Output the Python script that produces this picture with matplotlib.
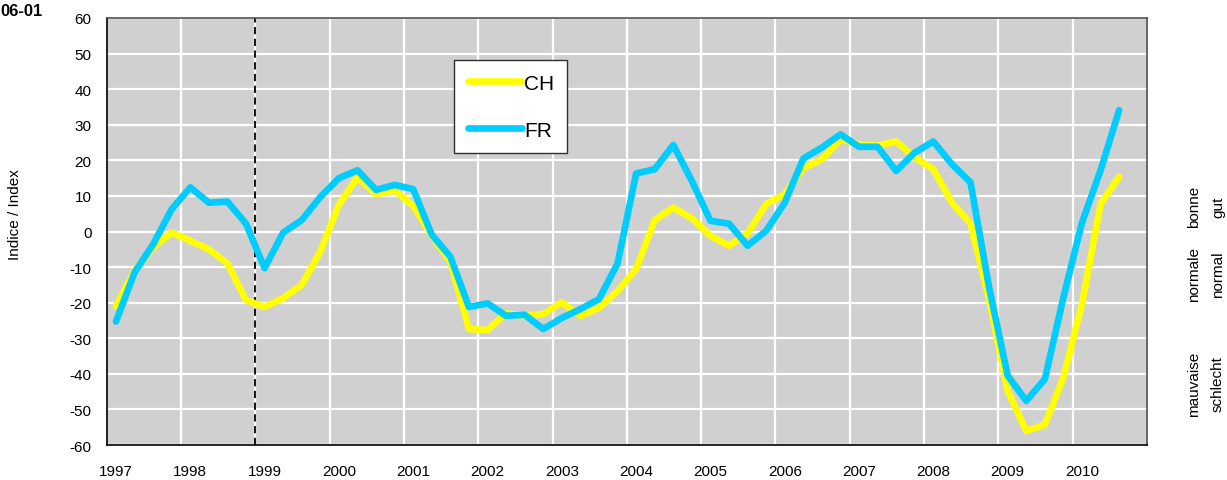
import matplotlib.pyplot as plt
import numpy as np

plt.rcParams['font.family'] = ['Liberation Sans', 'DejaVu Sans']
plt.rcParams['axes.unicode_minus'] = False

# quarterly values, 1997 Q1 - 2010 Q3
ch = [-21, -11, -4.5, -0.3, -2.6, -5, -9, -19.3, -21.2, -18.7, -15, -5.6, 7.5, 15.2,
      10.5, 11.6, 7.2, -1.2, -8.5, -27.4, -27.7, -23, -23.7, -23.2, -19.9, -23.7, -21.5,
      -16.7, -10.6, 3.2, 6.7, 3.7, -1.2, -4.0, -0.5, 7.7, 10.5, 17.8, 20.3, 25.9, 24.5,
      24.1, 25.3, 20.8, 17.5, 8.1, 2.2, -19, -44.8, -56, -54.3, -41, -20.4, 7.7, 15.4]
fr = [-25.3, -11.5, -3.6, 6.3, 12.4, 8.1, 8.4, 2.2, -10.3, -0.3, 3.2, 9.7, 15.0, 17.2,
      11.7, 13.1, 11.9, -0.9, -7.1, -21.2, -20.2, -23.7, -23.4, -27.4, -24.3, -21.8, -19.0,
      -9.0, 16.3, 17.5, 24.3, 14.2, 3.0, 2.2, -4.0, 0.2, 8.1, 20.5, 23.6, 27.3, 23.8,
      23.8, 17.0, 22.2, 25.3, 18.9, 13.8, -15.7, -40.5, -47.6, -41.5, -18.5, 2.5, 17.2, 34.1]
years = list(range(1997, 2011))
n_quarters = len(years) * 4

W, H = 1227, 481
fig = plt.figure(figsize=(W / 100, H / 100), dpi=100)
ax = fig.add_axes([106.7 / W, 1 - 446 / H, (1147 - 106.7) / W, (446 - 19) / H])
ax.set_facecolor('#D0D0D0')

x = np.arange(len(ch)) + 0.5
ax.plot(x, ch, color='#FFFF00', lw=4.8, solid_capstyle='round', label='CH', zorder=3)
ax.plot(x, fr, color='#00CCFF', lw=4.8, solid_capstyle='round', label='FR', zorder=4)

ax.set_xlim(0, n_quarters)
ax.set_ylim(-60, 60)
ax.set_yticks(np.arange(-60, 61, 10))
ax.set_xticks([4 * i + 0.5 for i in range(len(years))])
ax.set_xticklabels([str(y) for y in years])
ax.set_xticks(np.arange(4, n_quarters, 4), minor=True)
ax.grid(True, which='major', axis='y', color='white', lw=1.6)
ax.grid(True, which='minor', axis='x', color='white', lw=1.6)
ax.set_axisbelow(True)
ax.tick_params(axis='both', which='both', length=0, labelsize=11)
ax.tick_params(axis='y', pad=11)
ax.tick_params(axis='x', pad=14)

# euro start
ax.axvline(8, color='black', lw=1.3, ls=(0, (4, 2.5)), zorder=2)

for s in ['top', 'right']:
    ax.spines[s].set_color('#505050')
for s in ['left', 'bottom']:
    ax.spines[s].set_color('black')
for s in ax.spines.values():
    s.set_linewidth(1.2)

ax.set_ylabel('Indice / Index', fontsize=11, labelpad=0)
ax.yaxis.set_label_coords(-85 / (1147 - 106.7), (446 - 215) / (446 - 19))

leg = ax.legend(loc='upper left', bbox_to_anchor=(454 / W, 1 - 61 / H),
                bbox_transform=fig.transFigure, fontsize=15, handlelength=2.6,
                handletextpad=0.1, labelspacing=1.35, borderpad=0.65,
                fancybox=False, framealpha=1, borderaxespad=0)
leg.get_frame().set_edgecolor('#303030')
leg.get_frame().set_linewidth(1.0)
for h in leg.get_lines():
    h.set_solid_capstyle('round')

fig.text(43 / W, 1 - 11 / H, '06-01', fontsize=12, fontweight='bold', ha='right', va='center')

side = [('bonne', 'gut', 207), ('normale', 'normal', 275), ('mauvaise', 'schlecht', 384)]
for fr_lbl, de_lbl, yc in side:
    fig.text(1194 / W, 1 - yc / H, fr_lbl, rotation=90, fontsize=11, ha='center', va='center')
    fig.text(1218 / W, 1 - yc / H, de_lbl, rotation=90, fontsize=11, ha='center', va='center')

fig.savefig('out.png', dpi=100)
